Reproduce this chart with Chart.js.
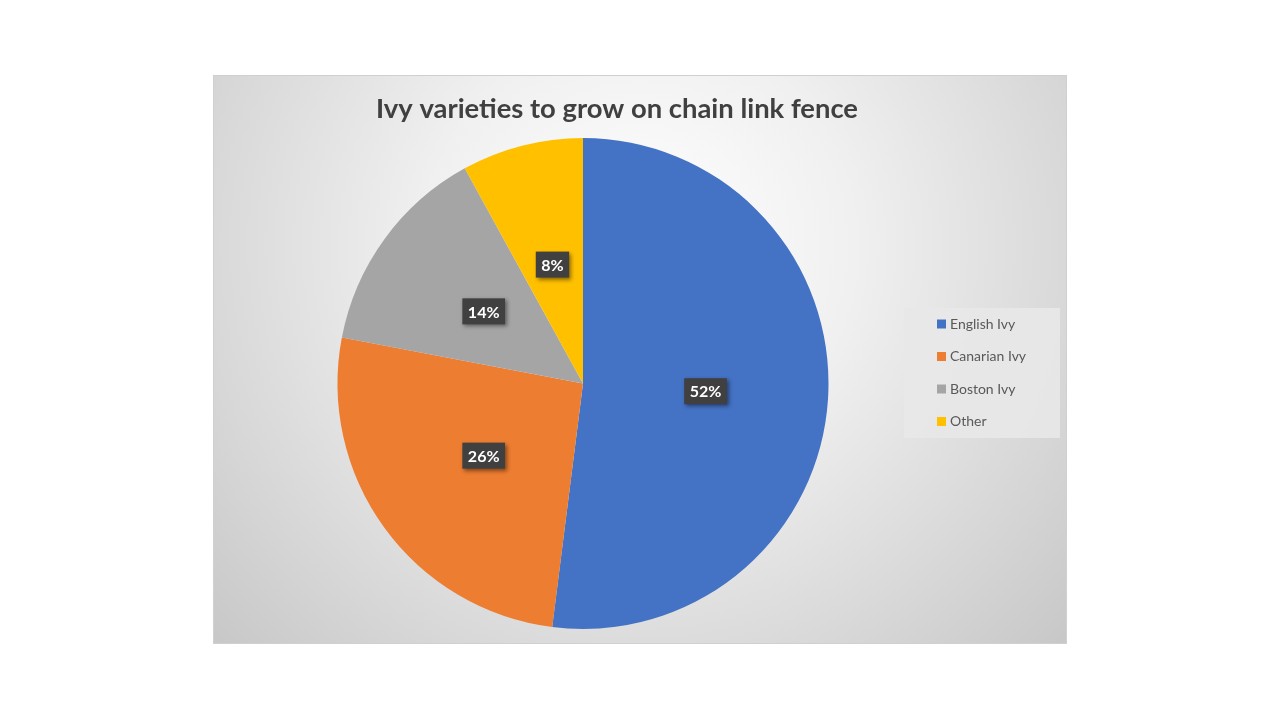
<!DOCTYPE html>
<html>
<head>
<meta charset="utf-8">
<script src="https://cdn.jsdelivr.net/npm/chart.js@4.4.1/dist/chart.umd.min.js"></script>
<style>
  html, body { margin: 0; padding: 0; background: #ffffff; width: 1280px; height: 720px; overflow: hidden; }
  #box { position: absolute; left: 213px; top: 75px; width: 854px; height: 569px; }
  canvas { display: block; }
</style>
</head>
<body>
<div id="box"><canvas id="c" width="854" height="569"></canvas></div>
<script>
const titleText = "Ivy varieties to grow on chain link fence";
const categories = ["English Ivy", "Canarian Ivy", "Boston Ivy", "Other"];
const shares = [52, 26, 14, 8];
const colors = ["#4472C4", "#ED7D31", "#A5A5A5", "#FFC000"];

const FONT = "Lato, 'Open Sans', sans-serif";

const bgPlugin = {
  id: 'bg',
  beforeDraw(chart) {
    const ctx = chart.ctx, w = chart.width, h = chart.height;
    ctx.save();
    const g = ctx.createRadialGradient(w * 0.5, h * 0.3, 0, w * 0.5, h * 0.3, w * 0.72);
    g.addColorStop(0, '#ffffff');
    g.addColorStop(0.35, '#f0f0f0');
    g.addColorStop(1, '#c4c4c4');
    ctx.fillStyle = g;
    ctx.fillRect(0, 0, w, h);
    ctx.strokeStyle = '#d0d0d0';
    ctx.lineWidth = 1;
    ctx.strokeRect(0.5, 0.5, w - 1, h - 1);
    // title
    ctx.fillStyle = '#404040';
    ctx.font = "bold 27.4px " + FONT;
    ctx.textAlign = 'center';
    ctx.textBaseline = 'middle';
    ctx.fillText(titleText, 404, 34);
    ctx.restore();
  },
  afterDraw(chart) {
    const ctx = chart.ctx;
    const meta = chart.getDatasetMeta(0);
    const data = chart.data.datasets[0].data;
    const total = data.reduce((a, b) => a + b, 0);
    ctx.save();
    // data labels
    ctx.font = "bold 16px " + FONT;
    ctx.textAlign = 'center';
    ctx.textBaseline = 'middle';
    meta.data.forEach((arc, i) => {
      const p = arc.getCenterPoint();
      const txt = Math.round(data[i] / total * 100) + '%';
      const tw = ctx.measureText(txt).width;
      const bw = tw + 11, bh = 26;
      ctx.save();
      ctx.shadowColor = 'rgba(0,0,0,0.45)';
      ctx.shadowBlur = 4;
      ctx.shadowOffsetX = 2;
      ctx.shadowOffsetY = 2;
      ctx.fillStyle = '#404040';
      ctx.fillRect(p.x - bw / 2, p.y - bh / 2, bw, bh);
      ctx.restore();
      ctx.fillStyle = '#ffffff';
      ctx.fillText(txt, p.x, p.y + 1);
    });
    // legend
    const lx = 691, ly = 233, lw = 156, lh = 130;
    ctx.fillStyle = 'rgba(232,232,232,0.9)';
    ctx.fillRect(lx, ly, lw, lh);
    ctx.font = "14px " + FONT;
    ctx.textAlign = 'left';
    ctx.textBaseline = 'middle';
    chart.data.labels.forEach((lab, i) => {
      const y = 249 + i * 32.5;
      ctx.fillStyle = colors[i];
      ctx.fillRect(724, y - 4.5, 9, 9);
      ctx.fillStyle = '#595959';
      ctx.fillText(lab, 737, y);
    });
    ctx.restore();
  }
};

new Chart(document.getElementById('c'), {
  type: 'pie',
  data: {
    labels: categories,
    datasets: [{
      data: shares,
      backgroundColor: colors,
      borderColor: '#ffffff',
      borderWidth: 0
    }]
  },
  options: {
    responsive: false,
    animation: false,
    rotation: 0,
    layout: { padding: { left: 124, right: 238, top: 63, bottom: 15 } },
    plugins: {
      legend: { display: false },
      title: { display: false },
      tooltip: { enabled: false }
    }
  },
  plugins: [bgPlugin]
});
</script>
</body>
</html>
